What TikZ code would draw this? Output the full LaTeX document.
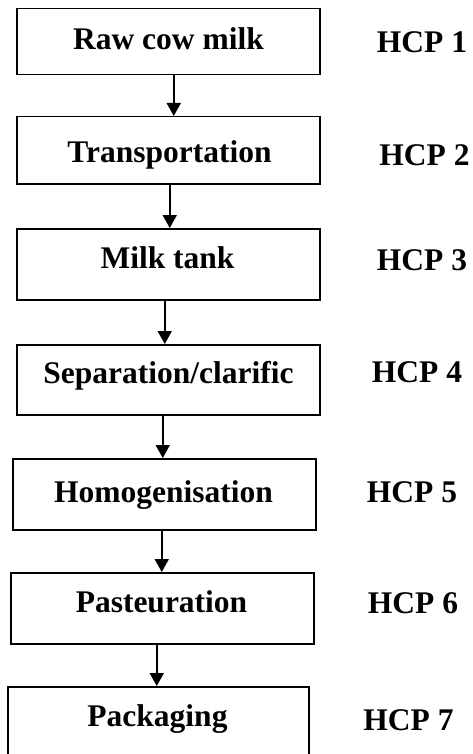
\documentclass[tikz,border=0pt]{standalone}
\usepackage{fontspec}
\setmainfont{Liberation Serif}
\usetikzlibrary{arrows.meta}
\begin{document}
\begin{tikzpicture}[x=1pt,y=1pt,
  stepbox/.style={draw=black, line width=1.5pt, fill=none, inner sep=0pt},
  steptext/.style={font=\bfseries\fontsize{31.5}{36}\selectfont, anchor=base, inner sep=0pt},
  hcp/.style={font=\bfseries\fontsize{31.5}{36}\selectfont, anchor=base, inner sep=0pt},
  flow/.style={line width=1.8pt, -{Triangle[width=14pt,length=13pt]}}]
\useasboundingbox (0,0) rectangle (473,-754);
\clip (0,0) rectangle (473,-754);

% process steps
\node[stepbox, minimum width=303pt, minimum height=66pt, anchor=north west] (b1) at (16,-8) {};
\node[stepbox, minimum width=303pt, minimum height=67pt, anchor=north west] (b2) at (16,-116) {};
\node[stepbox, minimum width=303pt, minimum height=71pt, anchor=north west] (b3) at (16,-228) {};
\node[stepbox, minimum width=303pt, minimum height=70pt, anchor=north west] (b4) at (16,-344) {};
\node[stepbox, minimum width=303pt, minimum height=71pt, anchor=north west] (b5) at (12,-458) {};
\node[stepbox, minimum width=303pt, minimum height=71pt, anchor=north west] (b6) at (10,-572) {};
\node[stepbox, minimum width=301pt, minimum height=90pt, anchor=north west] (b7) at (7,-686) {};

% step names
\node[steptext] (t1) at (168.5,-50) {Raw cow milk};
\node[steptext] (t2) at (169.5,-163) {Transportation};
\node[steptext] (t3) at (167.5,-268) {Milk tank};
\node[steptext] (t4) at (168.5,-383) {Separation/clarific};
\node[steptext] (t5) at (163.5,-502) {Homogenisation};
\node[steptext] (t6) at (161.5,-612) {Pasteuration};
\node[steptext] (t7) at (157.5,-726) {Packaging};

% hazard control points
\node[hcp] (h1) at (422,-53) {HCP 1};
\node[hcp] (h2) at (424.5,-165) {HCP 2};
\node[hcp] (h3) at (422,-270) {HCP 3};
\node[hcp] (h4) at (417,-382) {HCP 4};
\node[hcp] (h5) at (412,-502) {HCP 5};
\node[hcp] (h6) at (413,-613) {HCP 6};
\node[hcp] (h7) at (408.5,-730) {HCP 7};

% flow arrows
\draw[flow] ([xshift=5.5pt]b1.south) -- ([xshift=5.5pt]b1.south |- b2.north);
\draw[flow] ([xshift=1.5pt]b2.south) -- ([xshift=1.5pt]b2.south |- b3.north);
\draw[flow] ([xshift=-3.5pt]b3.south) -- ([xshift=-3.5pt]b3.south |- b4.north);
\draw[flow] ([xshift=-5.5pt]b4.south) -- ([xshift=-5.5pt]b4.south |- b5.north);
\draw[flow] ([xshift=-2.5pt]b5.south) -- ([xshift=-2.5pt]b5.south |- b6.north);
\draw[flow] ([xshift=-5.5pt]b6.south) -- ([xshift=-5.5pt]b6.south |- b7.north);
\end{tikzpicture}
\end{document}
